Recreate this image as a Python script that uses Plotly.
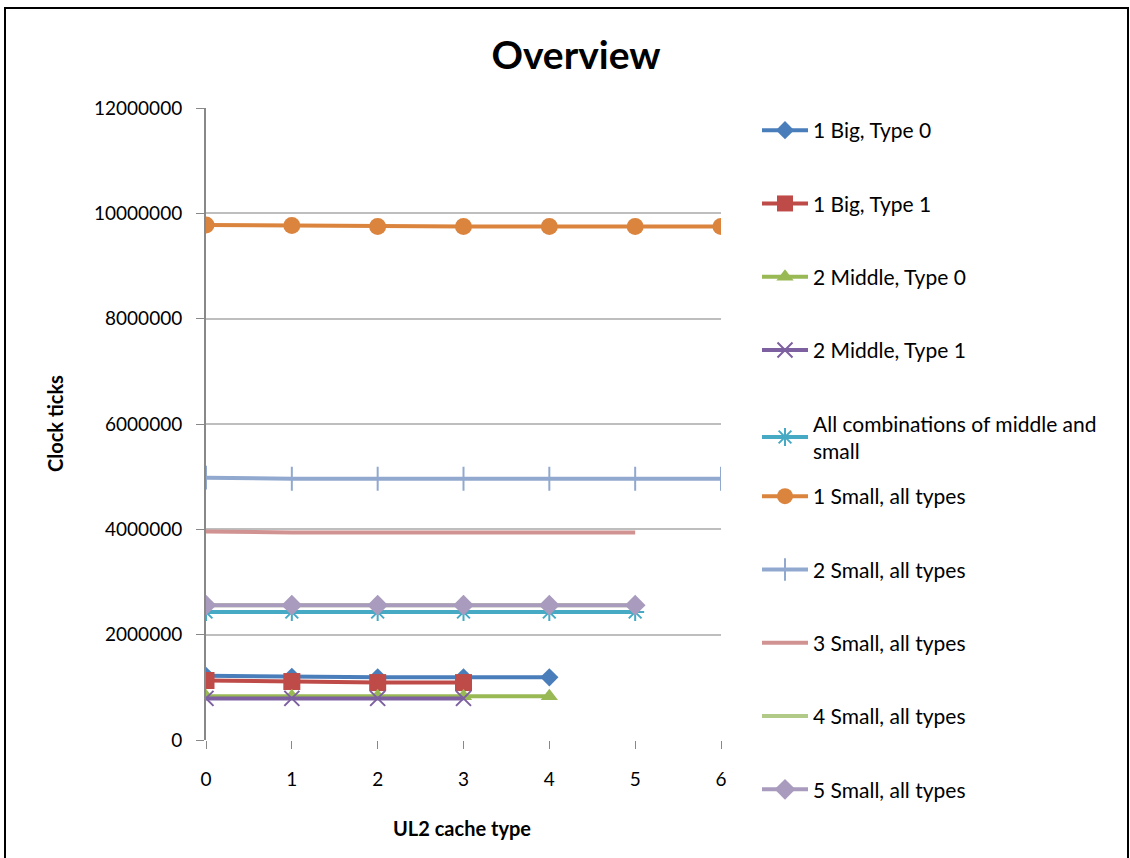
import plotly.graph_objects as go

names = ["1 Big, Type 0", "1 Big, Type 1", "2 Middle, Type 0", "2 Middle, Type 1",
         "All combinations of middle and<br>small", "1 Small, all types", "2 Small, all types",
         "3 Small, all types", "4 Small, all types", "5 Small, all types"]

big0 = [1220000, 1200000, 1190000, 1190000, 1190000]
big1 = [1130000, 1110000, 1090000, 1090000]
mid0 = [830000, 830000, 830000, 830000, 830000]
mid1 = [790000, 790000, 790000, 790000]
allcomb = [2430000, 2430000, 2430000, 2430000, 2430000, 2430000]
small1 = [9780000, 9770000, 9750000, 9750000, 9750000, 9750000, 9750000]
small2 = [4980000, 4960000, 4960000, 4960000, 4960000, 4960000, 4960000]
small3 = [3960000, 3940000, 3940000, 3940000, 3940000, 3940000]
small4 = [2560000, 2560000, 2560000, 2560000, 2560000, 2560000]
small5 = [2560000, 2560000, 2560000, 2560000, 2560000, 2560000]

series = [big0, big1, mid0, mid1, allcomb, small1, small2, small3, small4, small5]
line_colors = ["#4A7EBB", "#BE4B48", "#98B954", "#7D60A0", "#46AAC5", "#DB843D",
               "#92A9CF", "#D19392", "#B2CA88", "#A99BBD"]
symbols = ["diamond", "square", "triangle-up", "x-thin", "asterisk", "circle",
           "cross-thin", None, None, "diamond"]
msizes = [14, 17, 15, 15, 15, 17, 17, 0, 0, 16]

fig = go.Figure()
for i, (nm, ys) in enumerate(zip(names, series)):
    xs = list(range(len(ys)))
    sym = symbols[i]
    kw = {}
    if sym is None:
        mode = "lines"
    else:
        mode = "lines+markers"
        if sym in ("x-thin", "asterisk", "cross-thin"):
            kw["marker"] = dict(symbol=sym, size=msizes[i], color=line_colors[i],
                                line=dict(color=line_colors[i], width=2))
        else:
            kw["marker"] = dict(symbol=sym, size=msizes[i], color=line_colors[i])
    fig.add_trace(go.Scatter(x=xs, y=ys, name=nm, mode=mode, legendgroup=str(i),
                             legend="legend" if i < 5 else "legend2",
                             line=dict(color=line_colors[i], width=4), **kw))

font = "Lato, 'Open Sans', sans-serif"
W, H = 1130, 858
leg_common = dict(xref="container", yref="container", xanchor="left", yanchor="top",
                  tracegroupgap=43, itemwidth=46,
                  font=dict(size=21, family=font), bgcolor="rgba(0,0,0,0)")
fig.update_layout(
    width=W, height=H,
    margin=dict(l=206, r=W - 721, t=108, b=H - 740),
    paper_bgcolor="white", plot_bgcolor="white",
    font=dict(family=font, size=19, color="black"),
    title=dict(text="<b>Overview</b>", x=576 / W, xref="container", xanchor="center",
               y=1 - 55 / H, yref="container", yanchor="middle",
               font=dict(size=39, family=font)),
    showlegend=True,
    legend=dict(x=757 / W, y=1 - 110 / H, **leg_common),
    legend2=dict(x=757 / W, y=1 - 476 / H, **leg_common),
    xaxis=dict(range=[0, 6], tickvals=[0, 1, 2, 3, 4, 5, 6], showgrid=False,
               showline=False, zeroline=False, ticks="outside", ticklen=8,
               tickcolor="#888888", tickfont=dict(size=19), ticklabelstandoff=14),
    yaxis=dict(range=[0, 12000000], tickvals=[0, 2000000, 4000000, 6000000, 8000000,
                                              10000000, 12000000],
               ticktext=["0", "2000000", "4000000", "6000000", "8000000", "10000000", "12000000"],
               showgrid=True, gridcolor="#BEBEBE", gridwidth=2,
               showline=True, linecolor="#888888", linewidth=2,
               zeroline=False, ticks="outside", ticklen=8, tickcolor="#888888",
               tickfont=dict(size=19), ticklabelstandoff=10),
)

fig.add_annotation(text="<b>Clock ticks</b>", xref="paper", yref="paper",
                   x=(55 - 206) / 515, y=(740 - 424) / 632, textangle=-90,
                   showarrow=False, font=dict(size=20, family=font),
                   xanchor="center", yanchor="middle")
fig.add_annotation(text="<b>UL2 cache type</b>", xref="paper", yref="paper",
                   x=(462 - 206) / 515, y=(740 - 828) / 632,
                   showarrow=False, font=dict(size=20, family=font),
                   xanchor="center", yanchor="middle")

fig.add_shape(type="rect", xref="paper", yref="paper",
              x0=(5 - 206) / 515, x1=(1128 - 206) / 515,
              y0=(740 - 870) / 632, y1=(740 - 8) / 632,
              line=dict(color="black", width=2), layer="below")

fig.write_html("out.html", config={"displayModeBar": False},
               post_script="document.body.style.margin='0';")
